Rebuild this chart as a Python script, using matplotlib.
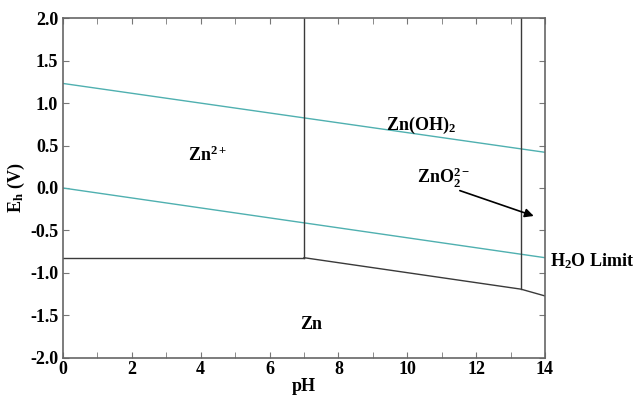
import numpy as np
import matplotlib
matplotlib.use('Agg')
import matplotlib.pyplot as plt
from matplotlib.ticker import MultipleLocator

plt.rcParams['font.family'] = ['Liberation Serif', 'DejaVu Serif']
plt.rcParams['font.weight'] = 'bold'
plt.rcParams['axes.labelweight'] = 'bold'
plt.rcParams['mathtext.fontset'] = 'custom'
plt.rcParams['mathtext.rm'] = 'Liberation Serif:bold'
plt.rcParams['mathtext.it'] = 'Liberation Serif:bold'
plt.rcParams['mathtext.bf'] = 'Liberation Serif:bold'

# boundaries of the Pourbaix diagram (pH, E [V])
zn2_zn_ph = [0.0, 7.0]
zn2_zn_e = [-0.82, -0.82]
zn2_hyd_ph = [7.0, 7.0]
zn2_hyd_e = [-0.82, 2.0]
hyd_zn_ph = [7.0, 13.3, 14.0]
hyd_zn_e = [-0.82, -1.19, -1.27]
hyd_zno2_ph = [13.3, 13.3]
hyd_zno2_e = [-1.19, 2.0]

# water stability limits
o2_ph = [0.0, 14.0]
o2_e = [1.23, 0.42]
h2_ph = [0.0, 14.0]
h2_e = [0.0, -0.82]

dark = '#3a3a3a'
cyan = '#4fb0b0'

fig = plt.figure(figsize=(6.34, 4.03), dpi=100)
ax = fig.add_axes([0.0994, 0.1117, 0.7602, 0.8436])

ax.plot(o2_ph, o2_e, color=cyan, lw=1.0)
ax.plot(h2_ph, h2_e, color=cyan, lw=1.0)
ax.plot(zn2_zn_ph, zn2_zn_e, color=dark, lw=1.0)
ax.plot(zn2_hyd_ph, zn2_hyd_e, color=dark, lw=1.0)
ax.plot(hyd_zn_ph, hyd_zn_e, color=dark, lw=1.0)
ax.plot(hyd_zno2_ph, hyd_zno2_e, color=dark, lw=1.0)

fs = 13
ax.text(4.2, 0.39, r'Zn$^{2+}$', fontsize=fs, ha='center', va='center')
ax.text(10.4, 0.74, r'Zn(OH)$_2$', fontsize=fs, ha='center', va='center')
ax.text(11.05, 0.12, r'ZnO$_2^{2-}$', fontsize=fs, ha='center', va='center')
ax.text(7.2, -1.61, 'Zn', fontsize=fs, ha='center', va='center')
ax.text(14.15, -0.86, r'H$_2$O Limit', fontsize=fs, ha='left', va='center',
        clip_on=False)
ax.annotate('', xy=(13.75, -0.34), xytext=(11.45, -0.02),
            arrowprops=dict(arrowstyle='-|>', color='black', lw=1.2,
                            mutation_scale=13))

ax.set_xlim(0, 14)
ax.set_ylim(-2.0, 2.0)
ax.xaxis.set_major_locator(MultipleLocator(2))
ax.xaxis.set_minor_locator(MultipleLocator(1))
ax.yaxis.set_major_locator(MultipleLocator(0.5))
ax.yaxis.set_major_formatter(plt.FuncFormatter(lambda v, p: '%.1f' % v))
ax.tick_params(which='both', direction='in', top=True, right=True,
               color='#777777', labelsize=fs)
ax.tick_params(which='major', length=4)
ax.tick_params(which='minor', length=4)
ax.tick_params(axis='x', pad=2)
for sp in ax.spines.values():
    sp.set_color('#666666')
    sp.set_linewidth(1.2)

ax.set_xlabel('pH', fontsize=fs, labelpad=0)
ax.set_ylabel(r'E$_\mathrm{h}$ (V)', fontsize=fs, labelpad=2)

fig.savefig('out.png', dpi=100)
